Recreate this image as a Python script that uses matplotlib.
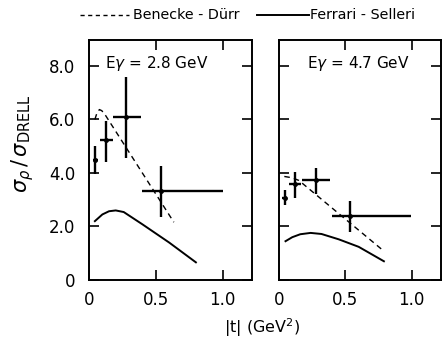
import matplotlib
matplotlib.use("Agg")
import matplotlib.pyplot as plt
import numpy as np

plt.rcParams['font.family'] = ['DejaVu Sans']

# Measured ratios, E_gamma = 2.8 GeV
t28 = [0.047, 0.13, 0.28, 0.537]
t28_lo = [0.027, 0.083, 0.176, 0.40]
t28_hi = [0.067, 0.176, 0.387, 1.0]
r28 = [4.5, 5.22, 6.1, 3.31]
r28_lo = [3.95, 4.4, 4.57, 2.35]
r28_hi = [5.0, 5.95, 7.6, 4.27]

# Measured ratios, E_gamma = 4.7 GeV
t47 = [0.044, 0.118, 0.282, 0.534]
t47_lo = [0.024, 0.078, 0.176, 0.397]
t47_hi = [0.064, 0.164, 0.387, 0.995]
r47 = [3.07, 3.57, 3.72, 2.39]
r47_lo = [2.82, 3.07, 3.2, 1.79]
r47_hi = [3.35, 4.02, 4.2, 2.95]

# Benecke-Duerr predictions
bd28_t = [0.044, 0.06, 0.078, 0.095, 0.115, 0.635]
bd28_r = [6.0, 6.25, 6.37, 6.33, 6.22, 2.16]
bd47_t = [0.04, 0.1, 0.15, 0.78]
bd47_r = [3.87, 3.82, 3.72, 1.12]

# Ferrari-Selleri predictions
fs28_t = [0.044, 0.1, 0.15, 0.2, 0.26, 0.4, 0.6, 0.8]
fs28_r = [2.2, 2.45, 2.57, 2.6, 2.54, 2.08, 1.4, 0.66]
fs47_t = [0.049, 0.1, 0.16, 0.238, 0.32, 0.45, 0.6, 0.79]
fs47_r = [1.45, 1.6, 1.71, 1.76, 1.72, 1.52, 1.24, 0.70]

xticks = [0, 0.5, 1.0]
xticklabels = ["0", "0.5", "1.0"]
yticks = [0, 2, 4, 6, 8]
yticklabels = ["0", "2.0", "4.0", "6.0", "8.0"]

fig = plt.figure(figsize=(4.43, 3.39), dpi=100)
W, H = 443, 339
ax1 = fig.add_axes([89 / W, 1 - 280 / H, 163 / W, 240 / H])
ax2 = fig.add_axes([279 / W, 1 - 280 / H, 162 / W, 240 / H])

panels = [
    (ax1, t28, t28_lo, t28_hi, r28, r28_lo, r28_hi, bd28_t, bd28_r, fs28_t, fs28_r,
     r"E$\gamma$ = 2.8 GeV", 0.098),
    (ax2, t47, t47_lo, t47_hi, r47, r47_lo, r47_hi, bd47_t, bd47_r, fs47_t, fs47_r,
     r"E$\gamma$ = 4.7 GeV", 0.173),
]

for ax, t, tlo, thi, r, rlo, rhi, bdt, bdr, fst, fsr, lab, lx in panels:
    t = np.array(t); r = np.array(r)
    xerr = [t - np.array(tlo), np.array(thi) - t]
    yerr = [r - np.array(rlo), np.array(rhi) - r]
    ax.errorbar(t, r, xerr=xerr, yerr=yerr, fmt='o', color='black',
                markersize=2.5, elinewidth=1.7, capsize=0)
    ax.plot(bdt, bdr, color='black', lw=1.0, ls=(0, (4, 3)))
    ax.plot(fst, fsr, color='black', lw=1.4)
    ax.set_xlim(0, 1.22)
    ax.set_ylim(0, 8.97)
    ax.set_xticks(xticks)
    ax.set_xticklabels(xticklabels, fontsize=12)
    ax.set_yticks(yticks)
    ax.tick_params(direction='in', length=7, width=1.2, top=True, right=True)
    ax.tick_params(axis='x', pad=8)
    ax.tick_params(axis='y', pad=10)
    for s in ax.spines.values():
        s.set_linewidth(1.4)
    ax.text(lx, 0.904, lab, transform=ax.transAxes, fontsize=11, va='center', ha='left')

ax1.set_yticklabels(yticklabels, fontsize=12)
ax2.set_yticklabels([])

ax1.set_ylabel(r"$\sigma_\rho\,/\,\sigma_{\rm DRELL}$", fontsize=15)
ax1.yaxis.set_label_coords((36 - 89) / 163, (280 - 144) / 240)
fig.text(262 / W, 1 - 328 / H, r"|t| (GeV$^2$)", fontsize=11.5, ha='center', va='center')

# legend line samples and labels across the top
fig.lines.append(plt.Line2D([80 / W, 129 / W], [1 - 15 / H] * 2, transform=fig.transFigure,
                            color='black', lw=1.0, ls=(0, (3, 2.5))))
fig.text(133 / W, 1 - 15 / H, "Benecke - Dürr", fontsize=10.3, va='center', ha='left')
fig.lines.append(plt.Line2D([257 / W, 309 / W], [1 - 15 / H] * 2, transform=fig.transFigure,
                            color='black', lw=1.4))
fig.text(310 / W, 1 - 15 / H, "Ferrari - Selleri", fontsize=10.3, va='center', ha='left')

fig.savefig("out.png", dpi=100)
